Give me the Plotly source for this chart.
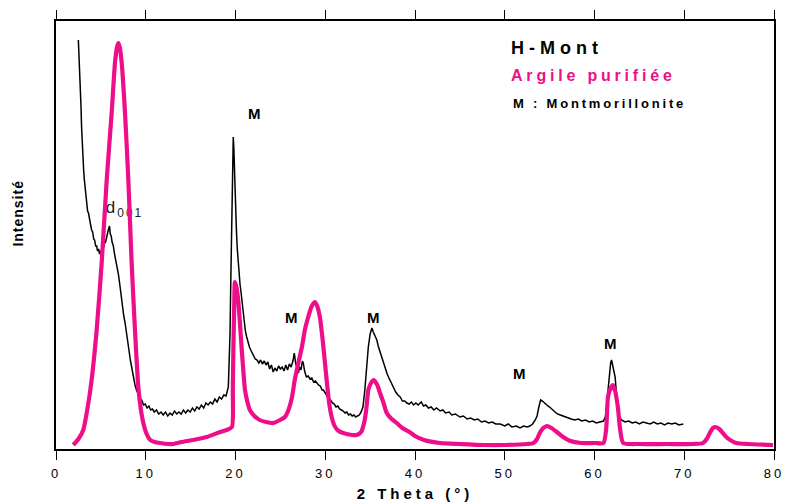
import plotly.graph_objects as go

# ---- H-Mont (black) ----
hmont_2theta = [2.49, 2.55, 2.62, 2.7, 2.78, 2.85, 2.93, 3.0, 3.08, 3.15, 3.25, 3.35, 3.42, 3.52, 3.62, 3.72, 3.82, 3.97,
                4.08, 4.2, 4.3, 4.42, 4.53, 4.63, 4.75, 4.85, 4.98, 5.08, 5.18, 5.3, 5.4, 5.5, 5.6, 5.7, 5.8, 5.9, 5.96,
                6.05, 6.15, 6.25, 6.39, 6.5, 6.6, 6.72, 6.85, 6.95, 7.1, 7.25, 7.4, 7.55, 7.7, 7.85, 8.0, 8.15, 8.3, 8.45,
                8.62, 8.8, 9.0, 9.2, 9.36, 9.55, 9.75, 9.95, 10.15, 10.35, 10.55, 10.75, 10.95, 11.2, 11.45, 11.7, 11.95,
                12.2, 12.45, 12.7, 12.95, 13.2, 13.45, 13.7, 13.95, 14.2, 14.45, 14.7, 14.95, 15.2, 15.45, 15.7, 15.95,
                16.2, 16.45, 16.7, 16.95, 17.2, 17.45, 17.7, 17.95, 18.2, 18.45, 18.7, 18.95, 19.1, 19.2, 19.3, 19.39,
                19.48, 19.56, 19.66, 19.75, 19.82, 19.9, 20.0, 20.1, 20.2, 20.3, 20.4, 20.5, 20.6, 20.7, 20.8, 20.9, 21.0,
                21.1, 21.25, 21.4, 21.55, 21.7, 21.85, 22.0, 22.2, 22.4, 22.6, 22.8, 23.0, 23.2, 23.4, 23.6, 23.8, 24.0,
                24.2, 24.4, 24.6, 24.8, 25.0, 25.2, 25.4, 25.6, 25.8, 26.0, 26.2, 26.4, 26.55, 26.7, 26.85, 27.0, 27.15,
                27.3, 27.45, 27.55, 27.7, 27.9, 28.1, 28.3, 28.5, 28.7, 28.9, 29.05, 29.25, 29.45, 29.65, 29.8, 30.0,
                30.2, 30.4, 30.6, 30.8, 31.0, 31.2, 31.4, 31.6, 31.8, 32.0, 32.2, 32.4, 32.6, 32.8, 33.0, 33.2, 33.4,
                33.6, 33.8, 34.0, 34.2, 34.4, 34.6, 34.8, 35.0, 35.2, 35.35, 35.5, 35.75, 35.9, 36.1, 36.3, 36.5, 36.7,
                36.9, 37.1, 37.3, 37.6, 37.85, 38.1, 38.35, 38.6, 38.85, 39.1, 39.35, 39.6, 39.85, 40.1, 40.35, 40.7,
                40.95, 41.2, 41.5, 41.8, 42.1, 42.4, 42.8, 43.1, 43.4, 43.8, 44.1, 44.5, 45.0, 45.4, 45.8, 46.2, 46.6,
                47.0, 47.4, 47.8, 48.2, 48.6, 49.0, 49.5, 50.0, 50.4, 50.8, 51.3, 51.7, 52.1, 52.5, 52.8, 53.1, 53.4,
                53.6, 53.8, 54.0, 54.2, 54.4, 54.6, 54.8, 55.0, 55.3, 55.6, 55.9, 56.2, 56.6, 57.0, 57.4, 57.8, 58.2,
                58.6, 59.0, 59.4, 59.8, 60.2, 60.6, 61.0, 61.2, 61.35, 61.5, 61.65, 61.8, 61.9, 62.0, 62.15, 62.3, 62.45,
                62.6, 62.8, 63.0, 63.4, 63.8, 64.2, 64.6, 65.0, 65.4, 65.8, 66.2, 66.6, 67.0, 67.4, 67.8, 68.2, 68.6,
                69.0, 69.4, 69.9]
hmont_intensity = [409, 398, 384, 366, 344, 322, 301, 290, 279, 270, 262, 250, 247, 238, 236, 229, 226, 219,
                   217, 210, 209, 203, 203, 198, 200, 195, 198, 196, 202, 201, 207, 206, 212, 214, 218, 221, 223,
                   215, 213, 207, 203, 196, 192, 184, 181, 175, 165, 152, 143, 133, 126, 115, 106, 97, 88, 81,
                   72, 64, 58, 55, 50, 49, 44, 45, 41, 43, 39, 40, 37, 39, 35, 37, 34,
                   37, 33, 36, 34, 38, 35, 37, 35, 39, 36, 39, 37, 41, 38, 42, 40,
                   44, 41, 46, 44, 47, 45, 50, 47, 52, 50, 54, 53, 57, 62, 90, 116,
                   170, 219, 280, 312, 300, 270, 240, 219, 200, 186, 178, 165, 158, 149, 138, 132, 124,
                   118, 112, 106, 102, 99, 96, 93, 90, 89, 86, 89, 85, 88, 84, 87, 80, 84,
                   77, 81, 78, 83, 80, 82, 78, 84, 79, 85, 82, 88, 96, 86, 80, 76, 82,
                   79, 88, 86, 78, 72, 73, 70, 71, 67, 68, 66, 64, 63, 59, 59, 56,
                   54, 50, 49, 46, 45, 42, 43, 40, 39, 38, 36, 37, 34, 35, 33, 34, 32,
                   33, 34, 37, 42, 58, 82, 102, 115, 121, 117, 114, 109, 103, 97, 91, 86, 80,
                   75, 71, 67, 62, 57, 54, 52, 48, 48, 46, 45, 47, 44, 46, 44, 47,
                   43, 44, 41, 42, 39, 41, 38, 39, 36, 37, 34, 35, 32, 33, 30, 31, 29,
                   30, 27, 28, 26, 27, 25, 25, 23, 25, 22, 23, 21, 23, 22, 23, 25, 29,
                   33, 42, 49, 48, 46, 45, 43, 42, 39, 37, 35, 34, 32, 31, 30, 29, 30,
                   28, 29, 27, 28, 26, 27, 28, 32, 40, 58, 76, 86, 89, 85, 80, 72, 55,
                   40, 32, 29, 27, 28, 26, 27, 25, 27, 26, 25, 27, 25, 26, 24, 26, 25,
                   26, 24, 25]

# ---- Argile purifiée (pink) ----
argile_2theta = [1.93, 2.5, 3.04, 3.5, 3.97, 4.53, 5.09, 5.65, 6.2, 6.57, 6.8, 6.95, 7.1, 7.32, 7.69, 8.06, 8.43,
                 8.8, 9.17, 9.45, 9.73, 10.1, 10.5, 11.0, 11.6, 12.5, 13.1, 14.0, 15.3, 16.8, 18.3, 19.0, 19.6, 19.7,
                 19.76, 19.85, 19.94, 20.1, 20.3, 20.5, 20.7, 20.9, 21.06, 21.3, 21.6, 22.1, 22.7, 23.4, 24.2, 24.96,
                 25.5, 25.9, 26.3, 26.6, 27.0, 27.4, 27.75, 28.1, 28.5, 28.86, 29.1, 29.4, 29.7, 29.97, 30.2, 30.5,
                 30.8, 31.1, 31.5, 32.0, 33.0, 33.5, 34.0, 34.4, 34.6, 34.8, 35.1, 35.4, 35.8, 36.1, 36.5, 36.85,
                 37.4, 37.96, 38.6, 39.4, 40.0, 41.0, 42.8, 45.0, 47.6, 50.0, 52.5, 53.2, 53.6, 53.9, 54.3, 54.7,
                 55.2, 55.8, 56.5, 57.3, 58.5, 60.0, 61.0, 61.3, 61.5, 61.75, 62.05, 62.3, 62.6, 62.85, 63.2, 65.0,
                 68.0, 71.0, 72.1, 72.5, 72.9, 73.2, 73.5, 73.9, 74.3, 74.8, 75.3, 75.8, 77.0, 79.9]
argile_intensity = [4, 10, 19, 40, 69, 119, 186, 269, 336, 386, 402, 406, 402, 386, 336, 269, 186,
                    119, 62, 40, 26, 15, 9, 7, 6, 5, 5, 7, 9, 12, 17, 19, 22, 60,
                    99, 140, 167, 162, 149, 125, 99, 75, 59, 48, 39, 33, 29, 27, 26, 29,
                    32, 39, 52, 69, 86, 102, 120, 132, 143, 147, 143, 132, 110, 86, 65, 42,
                    29, 22, 18, 16, 14, 14, 17, 29, 42, 59, 66, 69, 64, 56, 46, 36,
                    30, 26, 21, 17, 13, 9, 6, 5, 4, 4, 5, 6, 10, 16, 21, 23,
                    21, 17, 12, 8, 6, 6, 6, 20, 52, 60, 64, 58, 42, 20, 6, 5,
                    5, 5, 6, 10, 17, 21, 22, 20, 16, 11, 8, 6, 5, 4]

# ---- peak labels ----
m_label_x = [22.17, 26.2, 35.4, 51.6, 61.8]
m_label_y = [336, 132, 132, 76, 106]
m_label_text = ["M", "M", "M", "M", "M"]

x_ticks = [0, 10, 20, 30, 40, 50, 60, 70, 80]
x_tick_labels = ["0", "10", "20", "30", "40", "50", "60", "70", "80"]

PINK = "#EE0E8A"
FONT = "Arial, Liberation Sans, sans-serif"

fig = go.Figure()

# d001 label drawn first so the curves pass over it
fig.add_trace(go.Scatter(
    x=[5.55], y=[240], mode="text", text=["d<sub>001</sub>"], textposition="middle right",
    textfont=dict(family=FONT, size=17, color="#222"), showlegend=False, hoverinfo="skip"))

fig.add_trace(go.Scatter(
    x=hmont_2theta, y=hmont_intensity, mode="lines", name="H-Mont",
    line=dict(color="black", width=1.5), showlegend=False))

fig.add_trace(go.Scatter(
    x=argile_2theta, y=argile_intensity, mode="lines", name="Argile purifiée",
    line=dict(color=PINK, width=4.2, shape="spline", smoothing=0.6), showlegend=False))

for mx, my, mt in zip(m_label_x, m_label_y, m_label_text):
    fig.add_annotation(x=mx, y=my, text=f"<b>{mt}</b>", showarrow=False,
                       font=dict(family=FONT, size=15, color="black"))

fig.add_annotation(x=50.5, y=401, text="<b>H-Mont</b>", showarrow=False, xanchor="left", align="left",
                   font=dict(family=FONT, size=18, color="black"))
fig.add_annotation(x=50.5, y=374, text="<b>Argile purifiée</b>", showarrow=False, xanchor="left", align="left",
                   font=dict(family=FONT, size=16, color=PINK))
fig.add_annotation(x=50.7, y=346, text="<b>M : Montmorillonite</b>", showarrow=False, xanchor="left",
                   align="left", font=dict(family=FONT, size=13, color="black"))

# y-axis title
fig.add_annotation(xref="paper", yref="paper", x=-0.053, y=0.551, xanchor="center", yanchor="middle",
                   text="<b>Intensité</b>", textangle=-90, showarrow=False,
                   font=dict(family=FONT, size=14, color="black"))

fig.update_layout(
    width=785, height=504,
    margin=dict(l=56, r=11, t=21, b=55, autoexpand=False),
    paper_bgcolor="white", plot_bgcolor="white",
    font=dict(family=FONT, color="black"),
    xaxis=dict(
        range=[0, 80], tickvals=x_ticks, ticktext=x_tick_labels,
        ticks="outside", ticklen=9, tickwidth=1, tickcolor="black",
        showline=True, linecolor="black", linewidth=1.5, mirror="ticks",
        showgrid=False, zeroline=False, ticklabelstandoff=3, automargin=False,
        tickfont=dict(family=FONT, size=13, color="black"),
        title=dict(text="<b>2 Theta (°)</b>", font=dict(family=FONT, size=15, color="black"), standoff=8),
    ),
    xaxis2=dict(
        range=[0, 80], tickvals=x_ticks, overlaying="x", anchor="y", side="bottom",
        ticks="inside", ticklen=8, tickwidth=1, tickcolor="black", automargin=False,
        showticklabels=False, showline=False, showgrid=False, zeroline=False,
    ),
    yaxis=dict(
        range=[0, 428], showline=True, linecolor="black", linewidth=1.5, mirror=True, automargin=False,
        ticks="", showticklabels=False, showgrid=False, zeroline=False,
    ),
)

# page without body margin, and widen letter spacing like the original figure's text
post_js = """
document.body.style.margin = '0';
document.body.style.overflow = 'hidden';
var gd = document.getElementById('{plot_id}');
gd.querySelectorAll('.annotation-text').forEach(function(t){
  var s = t.textContent;
  if (s === 'H-Mont') t.style.letterSpacing = '5px';
  else if (s === 'Argile purifiée') t.style.letterSpacing = '3.8px';
  else if (s === 'M : Montmorillonite') t.style.letterSpacing = '2.8px';
  else if (s === 'Intensité') t.style.letterSpacing = '1px';
});
gd.querySelectorAll('.xtick text').forEach(function(t){ t.style.letterSpacing = '3px'; });
gd.querySelectorAll('.g-xtitle text').forEach(function(t){ t.style.letterSpacing = '4px'; });
gd.querySelectorAll('.textpoint text').forEach(function(t){ t.style.letterSpacing = '2px'; });
"""

fig.write_html("out.html", post_script=post_js, config={"displayModeBar": False})
